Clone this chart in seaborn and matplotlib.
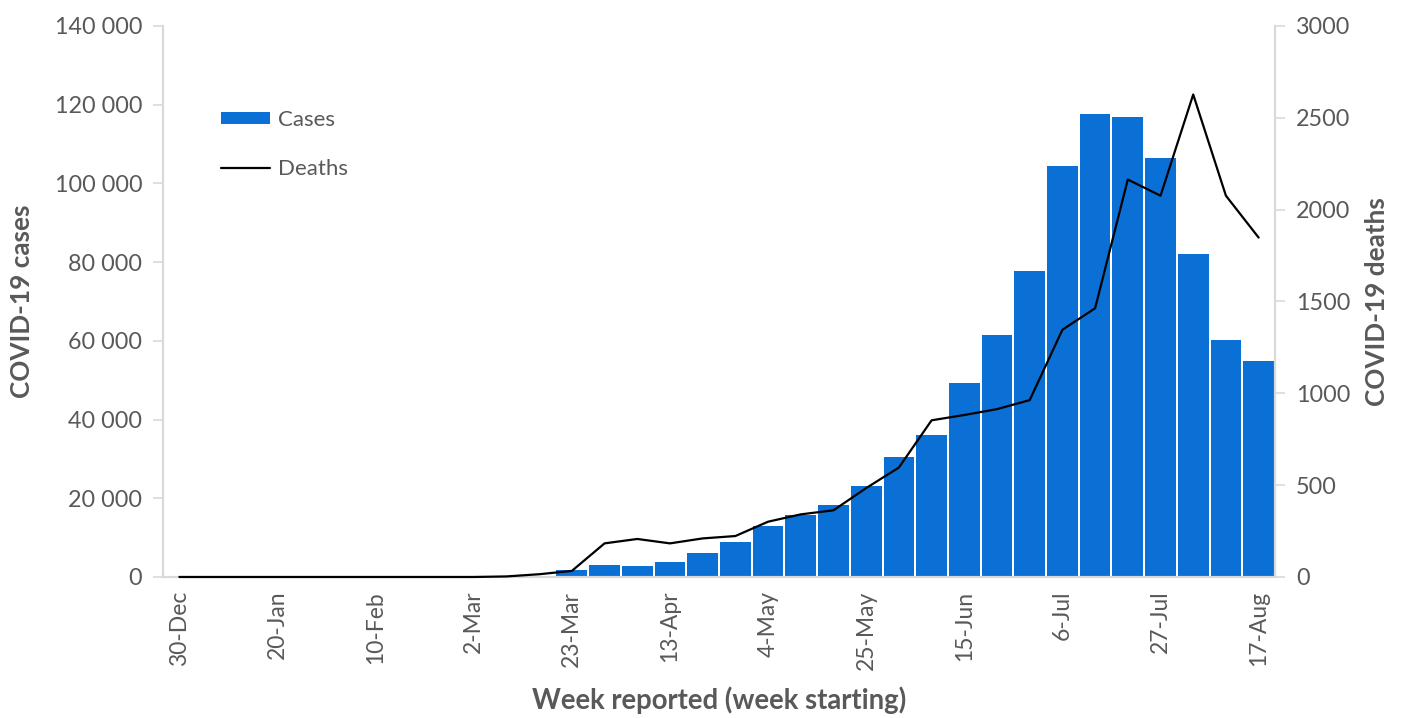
import numpy as np
import pandas as pd
import seaborn as sns
import matplotlib.pyplot as plt
from matplotlib.ticker import FuncFormatter, MultipleLocator

# Weekly data (week starting)
weeks = ['30-Dec', '6-Jan', '13-Jan', '20-Jan', '27-Jan', '3-Feb', '10-Feb', '17-Feb',
         '24-Feb', '2-Mar', '9-Mar', '16-Mar', '23-Mar', '30-Mar', '6-Apr', '13-Apr',
         '20-Apr', '27-Apr', '4-May', '11-May', '18-May', '25-May', '1-Jun', '8-Jun',
         '15-Jun', '22-Jun', '29-Jun', '6-Jul', '13-Jul', '20-Jul', '27-Jul', '3-Aug',
         '10-Aug', '17-Aug']
cases = [0, 0, 0, 0, 0, 0, 0, 0,
         0, 0, 0, 0, 1800, 3000, 2900, 3800,
         6100, 8800, 12900, 15700, 18300, 23000, 30500, 36100,
         49200, 61600, 77700, 104400, 117700, 116800, 106400, 82000,
         60100, 55000]
deaths = [0, 0, 0, 0, 0, 0, 0, 0,
          0, 0, 3, 15, 33, 183, 207, 183,
          210, 223, 301, 341, 363, 484, 596, 853,
          882, 914, 963, 1346, 1463, 2164, 2076, 2627,
          2076, 1848]
shown_ticks = weeks[::3]

grey = '#595959'
blue = '#0B70D6'

sns.set_style('white')
plt.rcParams['font.family'] = ['Lato', 'DejaVu Sans']
plt.rcParams['text.color'] = grey
plt.rcParams['axes.labelcolor'] = grey
plt.rcParams['xtick.color'] = grey
plt.rcParams['ytick.color'] = grey

df = pd.DataFrame({'week': weeks, 'cases': cases, 'deaths': deaths, 'pos': np.arange(len(weeks))})

fig, ax = plt.subplots(figsize=(14.02, 7.18), dpi=100)
fig.subplots_adjust(left=0.1163, right=0.9094, top=0.9638, bottom=0.1964)

sns.barplot(data=df, x='week', y='cases', color=blue, saturation=1, width=0.94,
            linewidth=0, ax=ax, label='Cases')
ax2 = ax.twinx()
sns.lineplot(data=df, x='pos', y='deaths', color='black', linewidth=1.6, ax=ax2,
             label='Deaths', clip_on=False, zorder=3)

ax.set_xlim(-0.5, len(weeks) - 0.5)
ax.set_ylim(0, 140000)
ax2.set_ylim(0, 3000)
ax.yaxis.set_major_locator(MultipleLocator(20000))
ax2.yaxis.set_major_locator(MultipleLocator(500))
ax.yaxis.set_major_formatter(FuncFormatter(lambda v, p: f'{v:,.0f}'.replace(',', ' ')))

ax.set_xticks(range(0, len(weeks), 3))
ax.set_xticklabels(shown_ticks, rotation=90, fontsize=16.5)
ax.tick_params(axis='x', length=0, pad=10)
ax.tick_params(axis='y', labelsize=16.8, length=7, color='#d9d9d9', width=1.2, pad=8)
ax2.tick_params(axis='y', labelsize=16.8, length=7, color='#d9d9d9', width=1.2, pad=8)

for a in (ax, ax2):
    a.spines['top'].set_visible(False)
    for side in ('left', 'right', 'bottom'):
        a.spines[side].set_color('#d9d9d9')
        a.spines[side].set_linewidth(1.5)

ax.set_xlabel('Week reported (week starting)', fontsize=19.8, fontweight='bold', labelpad=12)
ax.set_ylabel('COVID-19 cases', fontsize=18.8, fontweight='bold', labelpad=15)
ax2.set_ylabel('COVID-19 deaths', fontsize=18.8, fontweight='bold', labelpad=11, rotation=90)

ax.set_zorder(1)
ax.patch.set_visible(False)
ax2.set_zorder(2)
for a in (ax, ax2):
    if a.get_legend():
        a.get_legend().remove()

h1, l1 = ax.get_legend_handles_labels()
h2, l2 = ax2.get_legend_handles_labels()
leg = ax2.legend(h1[:1] + h2, ['Cases', 'Deaths'], loc='upper left',
                 bbox_to_anchor=(0.034, 0.884), frameon=False, fontsize=16,
                 handlelength=2.2, handleheight=0.45, labelspacing=1.3, handletextpad=0.35)

fig.savefig('out.png', dpi=100)
